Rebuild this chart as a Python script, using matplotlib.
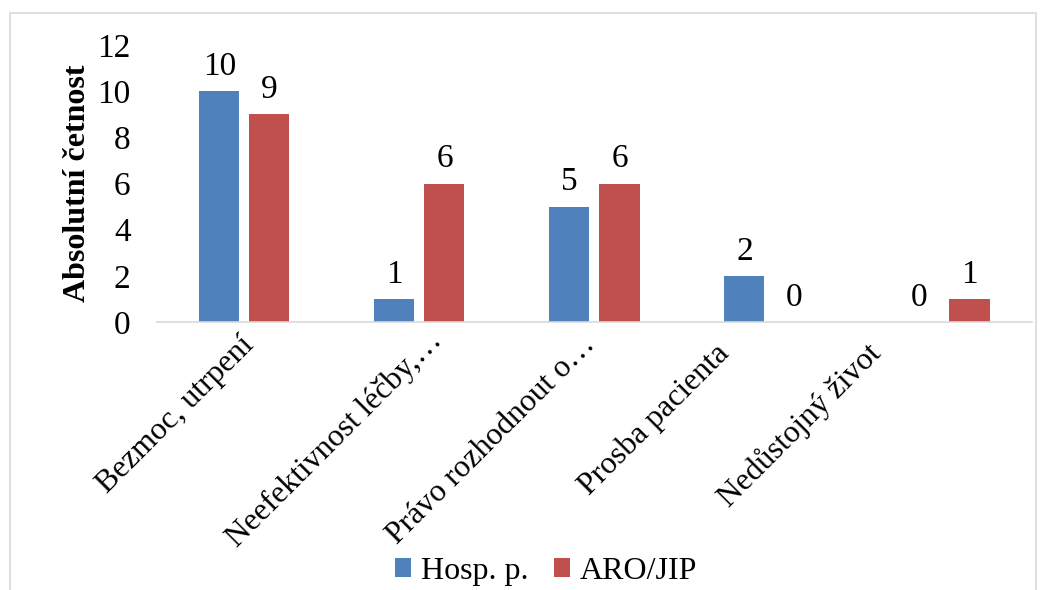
import matplotlib.pyplot as plt
import matplotlib.transforms as mtransforms
import numpy as np
from matplotlib.patches import Rectangle

categories = ['Bezmoc, utrpení', 'Neefektivnost léčby,…', 'Právo rozhodnout o…',
              'Prosba pacienta', 'Nedůstojný život']
hosp = [10, 1, 5, 2, 0]
aro = [9, 6, 6, 0, 1]
series_names = ['Hosp. p.', 'ARO/JIP']

plt.rcParams['font.family'] = ['Liberation Serif', 'DejaVu Serif']
FS = 24

fig = plt.figure(figsize=(10.46, 5.90), dpi=100)
ax = fig.add_axes([0.150, 0.4542, 0.8366, 0.4695])

# chart border
fig.patches.append(Rectangle((10 / 1046, -0.1), 1026 / 1046, 1 - 13 / 590 + 0.1,
                             transform=fig.transFigure, fill=False,
                             edgecolor='#d9d9d9', linewidth=1.2))

x = np.arange(len(categories))
w = 0.229
off = 0.143
b1 = ax.bar(x - off, hosp, w, color='#4F81BD', label=series_names[0])
b2 = ax.bar(x + off, aro, w, color='#C0504D', label=series_names[1])

for bars, vals in [(b1, hosp), (b2, aro)]:
    for b, v in zip(bars, vals):
        ax.text(b.get_x() + b.get_width() / 2, v + 0.4, str(v),
                ha='center', va='bottom', fontsize=FS)

ax.set_xlim(-0.5, len(categories) - 0.5)
ax.set_ylim(0, 12)
ax.set_yticks(range(0, 13, 2))
ax.tick_params(axis='y', length=0, labelsize=FS, pad=19)
ax.tick_params(axis='x', length=0, pad=6)
ax.set_xticks(x)
labels = ax.set_xticklabels(categories, rotation=45, ha='right', va='top',
                            rotation_mode='anchor', fontsize=22.8)

# excel-like shifting of the rotated labels (pixels)
shift_x = [-5, 8, -14, -55, -78]
shift_y = [0, 5, 0, -8, -8]
for lab, sx, sy in zip(labels, shift_x, shift_y):
    lab.set_transform(lab.get_transform() +
                      mtransforms.ScaledTranslation(sx / 100, sy / 100, fig.dpi_scale_trans))

for s in ['top', 'right', 'left']:
    ax.spines[s].set_visible(False)
ax.spines['bottom'].set_color('#d9d9d9')
ax.spines['bottom'].set_linewidth(1.2)

ax.set_ylabel('Absolutní četnost', fontsize=23, fontweight='bold', labelpad=4)

fig.legend(handles=[b1, b2], loc='center', bbox_to_anchor=(0.522, 0.032),
           ncol=2, frameon=False, fontsize=23, handlelength=0.52, handleheight=0.52,
           handletextpad=0.3, columnspacing=0.8)

fig.savefig('out.png', dpi=100)
